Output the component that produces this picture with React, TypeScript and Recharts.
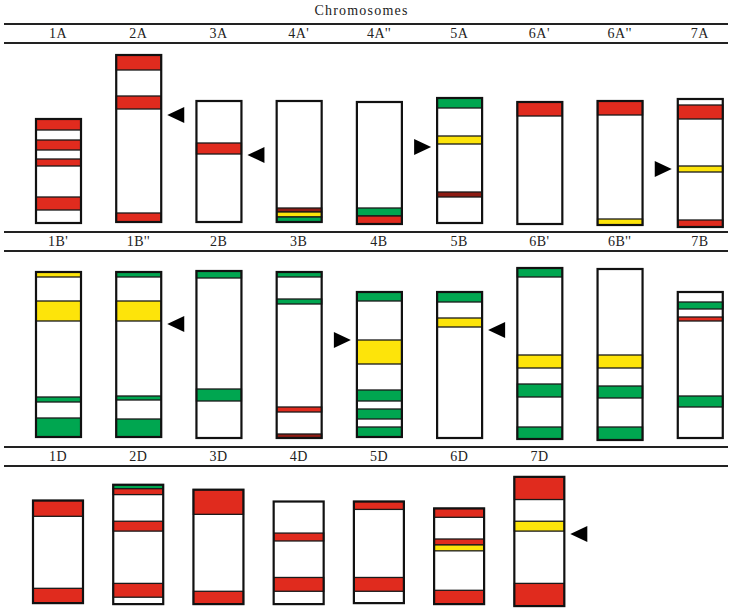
import React from "react";
import { BarChart, Bar, XAxis, YAxis } from "recharts";

// band colours
const COLORS: Record<string, string> = {
  r: "#e02b1e",
  g: "#00a650",
  y: "#fde40a",
  d: "#8e1c14",
};

type Band = [number, number, string];
type Arrow = [string, number] | null;

// row 1 : A genome (values = position in the row, top = 0)
const ROW1_NAMES = ["1A", "2A", "3A", "4A'", "4A''", "5A", "6A'", "6A''", "7A"];
const ROW1_SPANS: [number, number][] = [
  [76, 180], [12, 179], [58, 179], [58, 179], [59, 181], [55, 180], [59, 181], [58, 182], [56, 184],
];
const ROW1_BANDS: Band[][] = [
  [[76, 87, "r"], [97, 107, "r"], [116, 123, "r"], [154, 167, "r"]],
  [[12, 27, "r"], [53, 66, "r"], [170, 179, "r"]],
  [[100, 111, "r"]],
  [[165, 169, "d"], [169, 174, "y"], [174, 179, "g"]],
  [[165, 173, "g"], [173, 181, "r"]],
  [[55, 65, "g"], [93, 101, "y"], [149, 154, "d"]],
  [[59, 73, "r"]],
  [[58, 72, "r"], [176, 182, "y"]],
  [[62, 76, "r"], [123, 129, "y"], [177, 184, "r"]],
];
const ROW1_ARROWS: Arrow[] = [null, ["L", 72], ["L", 112], null, null, ["R", 104], null, null, ["R", 126]];

// row 2 : B genome
const ROW2_NAMES = ["1B'", "1B''", "2B", "3B", "4B", "5B", "6B'", "6B''", "7B"];
const ROW2_SPANS: [number, number][] = [
  [21, 186], [21, 186], [20, 187], [21, 187], [41, 186], [41, 187], [17, 188], [18, 189], [41, 187],
];
const ROW2_BANDS: Band[][] = [
  [[21, 26, "y"], [50, 70, "y"], [146, 151, "g"], [167, 186, "g"]],
  [[21, 26, "g"], [50, 70, "y"], [145, 149, "g"], [168, 186, "g"]],
  [[20, 27, "g"], [138, 150, "g"]],
  [[21, 26, "g"], [48, 53, "g"], [156, 161, "r"], [183, 187, "d"]],
  [[41, 50, "g"], [89, 113, "y"], [139, 150, "g"], [158, 168, "g"], [176, 186, "g"]],
  [[41, 51, "g"], [67, 76, "y"]],
  [[17, 26, "g"], [104, 117, "y"], [133, 146, "g"], [176, 188, "g"]],
  [[104, 117, "y"], [135, 147, "g"], [176, 189, "g"]],
  [[51, 58, "g"], [66, 70, "r"], [145, 156, "g"]],
];
const ROW2_ARROWS: Arrow[] = [null, ["L", 73], null, null, ["R", 89], ["L", 79], null, null, null];

// row 3 : D genome
const ROW3_NAMES = ["1D", "2D", "3D", "4D", "5D", "6D", "7D", "", " "];
const ROW3_SPANS: ([number, number] | null)[] = [
  [35, 139], [19, 140], [24, 140], [36, 140], [36, 139], [43, 140], [11, 142], null, null,
];
const ROW3_BANDS: Band[][] = [
  [[35, 51, "r"], [124, 139, "r"]],
  [[19, 23, "g"], [23, 29, "r"], [56, 66, "r"], [119, 133, "r"]],
  [[24, 49, "r"], [127, 140, "r"]],
  [[68, 76, "r"], [113, 127, "r"]],
  [[36, 44, "r"], [113, 127, "r"]],
  [[43, 52, "r"], [74, 80, "r"], [80, 86, "y"], [126, 140, "r"]],
  [[11, 34, "r"], [56, 66, "y"], [119, 142, "r"]],
  [],
  [],
];
const ROW3_ARROWS: Arrow[] = [null, null, null, null, null, null, ["L", 69], null, null];

const buildRows = (names: string[], spans: any[], bands: Band[][], arrows: Arrow[]) =>
  names.map((name, i) => ({ name, span: spans[i], bands: bands[i], arrow: arrows[i] }));

const renderChrom = (props: any) => {
  const { x, y, width, height, payload } = props;
  if (!payload || !payload.span) return <g />;
  const top = Math.min(y, y + height);
  const h = Math.abs(height);
  const [s, e] = payload.span;
  const k = h / (e - s);
  const py = (v: number) => top + (v - s) * k;
  const arrow = payload.arrow;
  let tri = null;
  if (arrow) {
    const ay = py(arrow[1]);
    if (arrow[0] === "L") {
      const tip = x + width + 6;
      tri = <polygon points={`${tip},${ay} ${tip + 17},${ay - 8} ${tip + 17},${ay + 8}`} fill="#000" />;
    } else {
      const tip = x - 6;
      tri = <polygon points={`${tip},${ay} ${tip - 17},${ay - 8} ${tip - 17},${ay + 8}`} fill="#000" />;
    }
  }
  return (
    <g>
      <rect x={x} y={top} width={width} height={h} fill="#fff" />
      {payload.bands.map((b: Band, i: number) => (
        <rect
          key={i}
          x={x}
          y={py(b[0])}
          width={width}
          height={py(b[1]) - py(b[0])}
          fill={COLORS[b[2]]}
          stroke="#1a1a1a"
          strokeWidth={1.3}
        />
      ))}
      <rect x={x} y={top} width={width} height={h} fill="none" stroke="#111" strokeWidth={2.2} />
      {tri}
    </g>
  );
};

const tickStyle = { fontFamily: "Liberation Serif, serif", fontSize: 14, fill: "#222", letterSpacing: 0.5 };

const Row: React.FC<{ data: any[]; top: number; height: number; max: number; barSize: number }> = ({
  data, top, height, max, barSize,
}) => (
  <div
    style={{
      position: "absolute",
      left: 4,
      top,
      width: 724,
      borderTop: "2px solid #222",
    }}
  >
    <BarChart width={724} height={height} data={data} margin={{ top: 0, right: 0, left: 0, bottom: 0 }}>
      <XAxis
        dataKey="name"
        orientation="top"
        height={18}
        padding={{ left: 14, right: -12 }}
        tickLine={false}
        tickSize={3}
        tickMargin={2}
        axisLine={{ stroke: "#222", strokeWidth: 2 }}
        tick={tickStyle}
        interval={0}
      />
      <YAxis hide type="number" reversed domain={[0, max]} allowDataOverflow />
      <Bar dataKey="span" barSize={barSize} isAnimationActive={false} shape={renderChrom} />
    </BarChart>
  </div>
);

export default function App() {
  const row1 = buildRows(ROW1_NAMES, ROW1_SPANS, ROW1_BANDS, ROW1_ARROWS);
  const row2 = buildRows(ROW2_NAMES, ROW2_SPANS, ROW2_BANDS, ROW2_ARROWS);
  const row3 = buildRows(ROW3_NAMES, ROW3_SPANS, ROW3_BANDS, ROW3_ARROWS);
  return (
    <div
      style={{
        position: "absolute",
        left: 0,
        top: 0,
        width: 733,
        height: 612,
        background: "#fff",
        overflow: "hidden",
      }}
    >
      <div
        style={{
          position: "absolute",
          top: 0,
          left: 0,
          width: 723,
          height: 22,
          lineHeight: "22px",
          textAlign: "center",
          fontFamily: "Liberation Serif, serif",
          fontSize: 14,
          letterSpacing: 1.2,
          color: "#222",
        }}
      >
        Chromosomes
      </div>
      <Row data={row1} top={23} height={207} max={189} barSize={45} />
      <Row data={row2} top={231} height={213} max={195} barSize={45} />
      <Row data={row3} top={446} height={164} max={148} barSize={50} />
    </div>
  );
}
